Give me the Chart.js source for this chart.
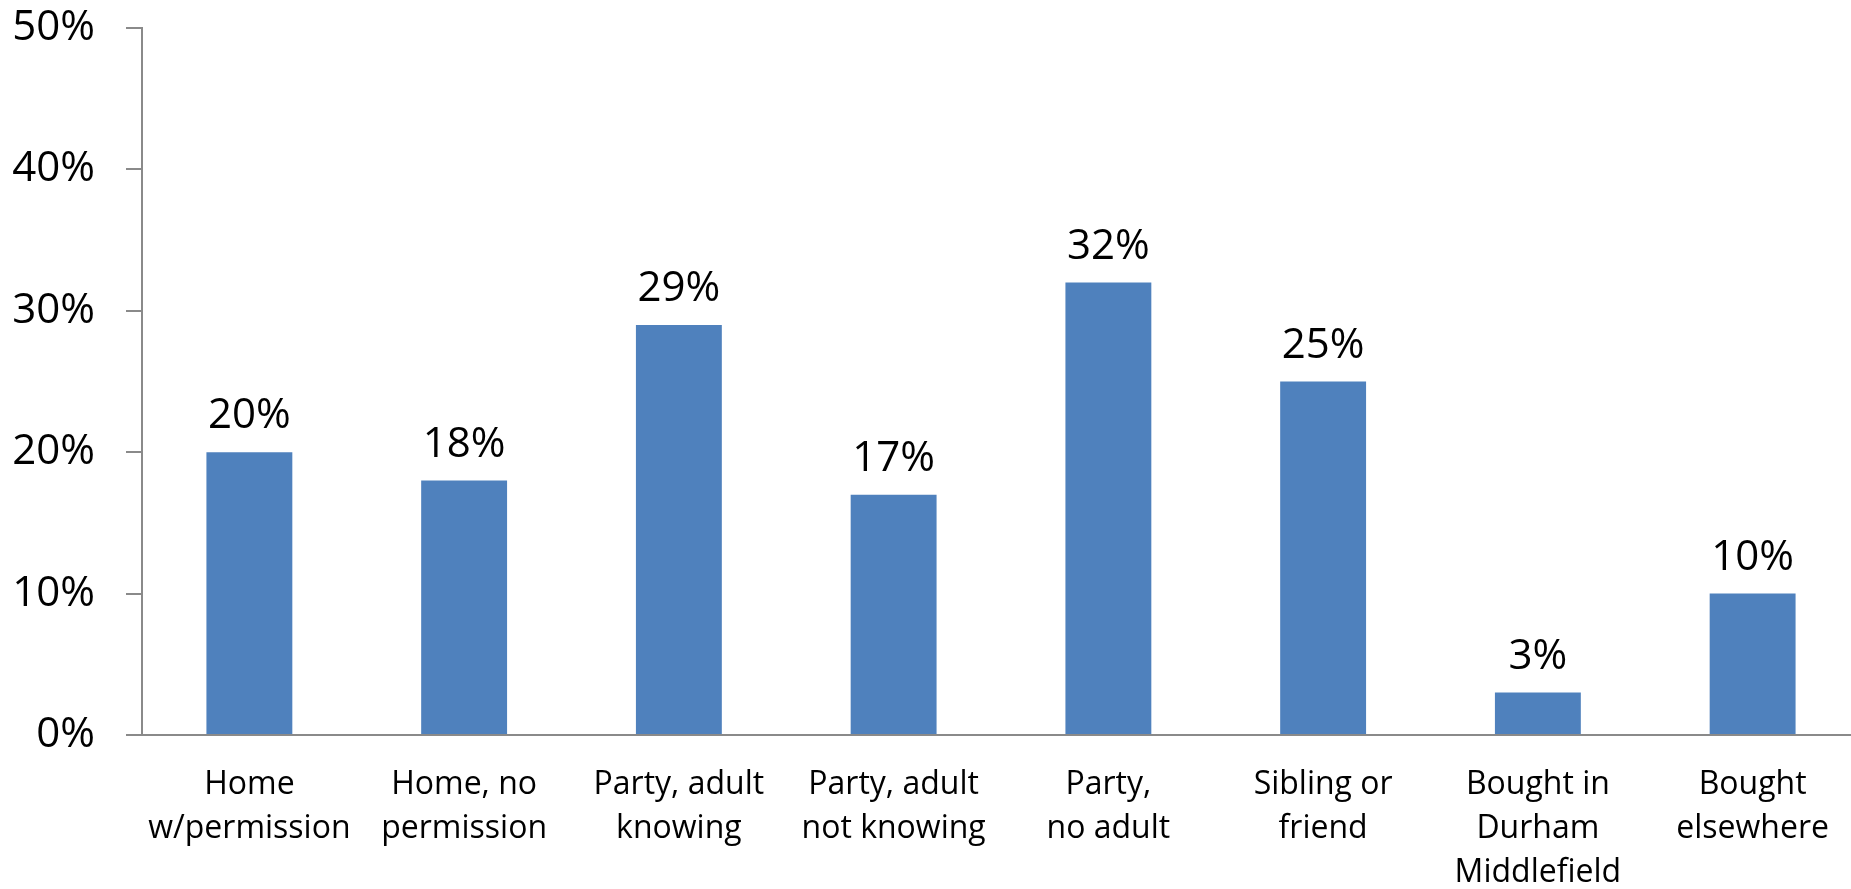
<!DOCTYPE html>
<html>
<head>
<meta charset="utf-8">
<script src="https://cdn.jsdelivr.net/npm/chart.js@4"></script>
<style>
  html, body { margin: 0; padding: 0; background: #fff; overflow: hidden; }
  #wrap { width: 1860px; height: 894px; position: relative; top: -5px; }
</style>
</head>
<body>
<div id="wrap"><canvas id="chart"></canvas></div>
<script>
// Where students got their alcohol (percent of respondents)
const categories = [
  ['Home', 'w/permission'],
  ['Home, no', 'permission'],
  ['Party, adult', 'knowing'],
  ['Party, adult', 'not knowing'],
  ['Party,', 'no adult'],
  ['Sibling or', 'friend'],
  ['Bought in', 'Durham', 'Middlefield'],
  ['Bought', 'elsewhere']
];
const percentValues = [20, 18, 29, 17, 32, 25, 3, 10];
const yTicks = [0, 10, 20, 30, 40, 50];

const FONT = "'Open Sans', 'Noto Sans', sans-serif";
const AXIS_GRAY = '#8a8a8a';

// Value labels above each bar
const barValueLabels = {
  id: 'barValueLabels',
  afterDatasetsDraw(chart) {
    const { ctx } = chart;
    const meta = chart.getDatasetMeta(0);
    ctx.save();
    ctx.font = `42px ${FONT}`;
    ctx.fillStyle = '#000';
    ctx.textAlign = 'center';
    ctx.textBaseline = 'alphabetic';
    meta.data.forEach((bar, i) => {
      ctx.fillText(percentValues[i] + '%', bar.x, bar.y - 24);
    });
    ctx.restore();
  }
};

new Chart(document.getElementById('chart'), {
  type: 'bar',
  data: {
    labels: categories,
    datasets: [{
      data: percentValues,
      backgroundColor: '#4F81BD',
      borderWidth: 0,
      barPercentage: 0.4,
      categoryPercentage: 1.0
    }]
  },
  options: {
    responsive: true,
    maintainAspectRatio: false,
    animation: false,
    layout: { padding: { top: 0, right: 0, bottom: 0, left: 0 } },
    plugins: {
      legend: { display: false },
      tooltip: { enabled: false }
    },
    scales: {
      x: {
        grid: { display: false, drawTicks: false },
        border: { display: true, color: AXIS_GRAY, width: 2 },
        ticks: {
          color: '#000',
          font: { family: FONT, size: 32, lineHeight: 1.375 },
          padding: 28,
          maxRotation: 0,
          autoSkip: false
        },
        afterFit(scale) { scale.height = 154; }
      },
      y: {
        min: 0,
        max: 50,
        afterBuildTicks(scale) { scale.ticks = yTicks.map(v => ({ value: v })); },
        grid: {
          drawOnChartArea: false,
          drawTicks: true,
          tickLength: 16,
          color: AXIS_GRAY,
          lineWidth: 2
        },
        border: { display: true, color: AXIS_GRAY, width: 2 },
        ticks: {
          color: '#000',
          font: { family: FONT, size: 42, lineHeight: 0.1 },
          padding: 31,
          callback: v => v + '%'
        },
        afterFit(scale) { scale.width = 142; }
      }
    }
  },
  plugins: [barValueLabels]
});
</script>
</body>
</html>
